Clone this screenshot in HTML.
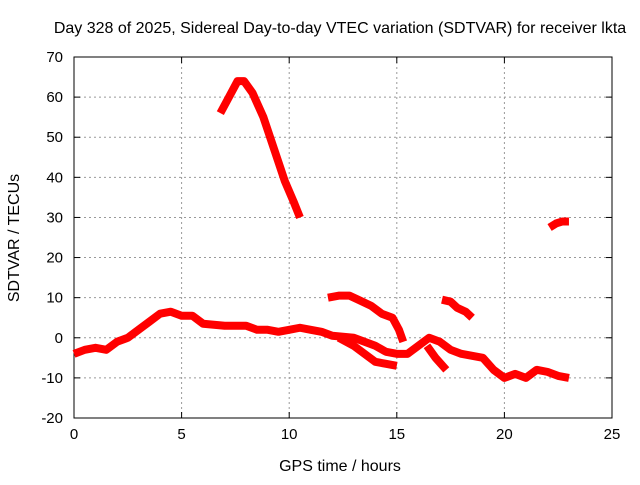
<!DOCTYPE html>
<html><head><meta charset="utf-8"><style>
body{margin:0;background:#fff;font-family:"Liberation Sans",sans-serif}
svg text{font-family:"Liberation Sans",sans-serif;font-size:15px;fill:#000}
</style></head><body>
<svg id="c" width="640" height="480"></svg>
<script>
const xTicks=[0,5,10,15,20,25];
const yTicks=[-20,-10,0,10,20,30,40,50,60,70];
const sMainX=[0,0.5,1,1.5,2,2.5,3,3.5,4,4.5,5,5.5,6,7,8,8.5,9,9.5,10,10.5,11,11.5,12,13,13.5,14,14.5,15,15.5,16,16.5,17,17.5,18,19,19.5,20,20.5,21,21.5,22,22.5,23];
const sMainY=[-4,-3,-2.5,-3,-1,0,2,4,6,6.5,5.5,5.5,3.5,3,3,2,2,1.5,2,2.5,2,1.5,0.5,0,-1,-2,-3.5,-4,-4,-2,0,-1,-3,-4,-5,-8,-10,-9,-10,-8,-8.5,-9.5,-10];
const sBranch1X=[12.3,13,13.5,14,14.5,15];
const sBranch1Y=[0,-2,-4,-6,-6.5,-7];
const sBranch2X=[16.4,16.8,17.3];
const sBranch2Y=[-2,-5,-8];
const sBX=[6.8,7.2,7.6,7.9,8.3,8.8,9.3,9.8,10.2,10.5];
const sBY=[56,60,64,64,61,55,47,39,34,30];
const sCX=[11.8,12.3,12.8,13.2,13.8,14.3,14.8,15.1,15.3];
const sCY=[10,10.5,10.5,9.5,8,6,5,2,-1];
const sDX=[17.1,17.5,17.8,18.2,18.5];
const sDY=[9.5,9,7.5,6.5,5];
const sEX=[22.1,22.4,22.7,23];
const sEY=[27.5,28.5,29,29];
const L=74,R=612,T=57,B=418;
const X=v=>L+(v-0)/25*(R-L);
const Y=v=>B-(v+20)/90*(B-T);
const s=document.getElementById('c');const NS='http://www.w3.org/2000/svg';
function el(t,a,p){const e=document.createElementNS(NS,t);for(const k in a)e.setAttribute(k,a[k]);(p||s).appendChild(e);return e;}
xTicks.forEach(v=>{if(v>0&&v<25){const g=el('line',{x1:X(v),x2:X(v),y1:T,y2:B,stroke:'#999','stroke-dasharray':'2,3'});}
const t=el('text',{x:X(v),y:B+21,'text-anchor':'middle'});t.textContent=v;

el('line',{x1:X(v),x2:X(v),y1:B,y2:B-6,stroke:'#000'});el('line',{x1:X(v),x2:X(v),y1:T,y2:T+6,stroke:'#000'});});
yTicks.forEach(v=>{if(v>-20&&v<70){const g=el('line',{x1:L,x2:R,y1:Y(v),y2:Y(v),stroke:'#999','stroke-dasharray':'2,3'});}
const t=el('text',{x:L-11,y:Y(v)+5,'text-anchor':'end'});t.textContent=v;

el('line',{x1:L,x2:L+6,y1:Y(v),y2:Y(v),stroke:'#000'});el('line',{x1:R,x2:R-6,y1:Y(v),y2:Y(v),stroke:'#000'});});
const f=el('rect',{x:L,y:T,width:R-L,height:B-T,fill:'none',stroke:'#000'});

function series(xs,ys,name){const p=el('polyline',{points:xs.map((x,i)=>X(x)+','+Y(ys[i])).join(' '),fill:'none',stroke:'#f00','stroke-width':8,'stroke-linejoin':'round'});
}
series(sMainX,sMainY,'series-main');series(sBranch1X,sBranch1Y,'series-branch-1');series(sBranch2X,sBranch2Y,'series-branch-2');
series(sBX,sBY,'series-peak');series(sCX,sCY,'series-arc-c');series(sDX,sDY,'series-arc-d');series(sEX,sEY,'series-arc-e');
let t=el('text',{x:340,y:33,'text-anchor':'middle','font-size':'16'});t.style.fontSize='16px';t.textContent='Day 328 of 2025, Sidereal Day-to-day VTEC variation (SDTVAR) for receiver lkta';

t=el('text',{x:340,y:471,'text-anchor':'middle'});t.style.fontSize='16px';t.textContent='GPS time / hours';

t=el('text',{x:19,y:238,'text-anchor':'middle',transform:'rotate(-90 19 238)'});t.style.fontSize='16px';t.textContent='SDTVAR / TECUs';

</script></body></html>
